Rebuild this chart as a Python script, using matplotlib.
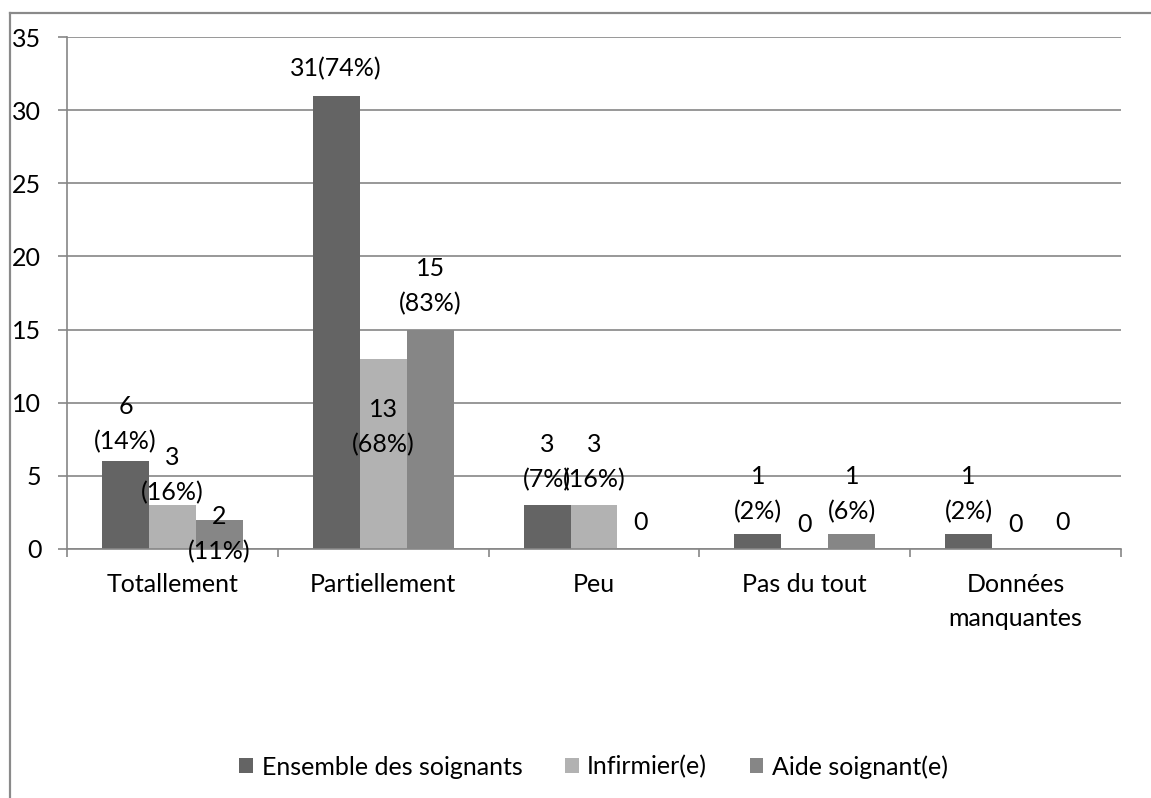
"""Grouped bar chart: degré de réponse par catégorie de soignants."""

import matplotlib

matplotlib.use("Agg")

import matplotlib.pyplot as plt
import numpy as np
from matplotlib.lines import Line2D
from matplotlib.patches import Patch

plt.rcParams["font.family"] = ["Lato", "DejaVu Sans"]
plt.rcParams["font.size"] = 18

categories = ["Totallement", "Partiellement", "Peu", "Pas du tout", "Données\nmanquantes"]
series_names = ["Ensemble des soignants", "Infirmier(e)", "Aide soignant(e)"]
ensemble = [6, 31, 3, 1, 1]
infirmier = [3, 13, 3, 0, 0]
aide = [2, 15, 0, 1, 0]
ensemble_labels = ["6\n(14%)", "31(74%)", "3\n(7%)", "1\n(2%)", "1\n(2%)"]
infirmier_labels = ["3\n(16%)", "13\n(68%)", "3\n(16%)", "0", "0"]
aide_labels = ["2\n(11%)", "15\n(83%)", "0", "1\n(6%)", "0"]
y_ticks = [0, 5, 10, 15, 20, 25, 30, 35]

# label centre above the bar top, in pixels (Excel moved a few of them by hand)
ensemble_offsets = [37, 27, 43, 40, 40]
infirmier_offsets = [30, -68, 43, 25, 25]
aide_offsets = [-14, 43, 26, 40, 26]

colors = ["#646464", "#b2b2b2", "#868686"]
grid_color = "#868686"
W, H = 1151, 798
px = 72 / 100


def main() -> None:
    fig = plt.figure(figsize=(W / 100, H / 100), dpi=100)
    ax = fig.add_axes([67 / W, 1 - 549 / H, 1054 / W, 512 / H])

    x = np.arange(len(categories))
    width = 47 / 211
    series = [ensemble, infirmier, aide]
    labels = [ensemble_labels, infirmier_labels, aide_labels]
    offsets = [ensemble_offsets, infirmier_offsets, aide_offsets]
    for i, (values, texts, offs) in enumerate(zip(series, labels, offsets)):
        xs = x + (i - 1) * width
        ax.bar(xs, values, width=width, color=colors[i], edgecolor="none", zorder=2)
        for xi, v, t, o in zip(xs, values, texts, offs):
            ax.annotate(t, xy=(xi, v), xytext=(0, o * px), textcoords="offset points",
                        ha="center", va="center", linespacing=1.62, zorder=3)

    ax.set_xlim(-0.5, len(categories) - 0.5)
    ax.set_ylim(0, 35)
    ax.set_yticks(y_ticks)
    ax.yaxis.grid(True, color=grid_color, linewidth=1.2)
    ax.set_axisbelow(True)

    ax.set_xticks(np.arange(-0.5, len(categories), 1))
    ax.set_xticklabels([])
    ax.set_xticks(x, minor=True)
    ax.set_xticklabels(categories, minor=True, linespacing=1.6)
    ax.tick_params(axis="x", which="major", length=8 * px, width=1.2, color=grid_color)
    ax.tick_params(axis="x", which="minor", length=0, pad=17)
    ax.tick_params(axis="y", length=9 * px, width=1.2, color=grid_color, pad=12)

    for side in ["top", "right"]:
        ax.spines[side].set_visible(False)
    for side in ["left", "bottom"]:
        ax.spines[side].set_color(grid_color)
        ax.spines[side].set_linewidth(1.2)

    handles = [Patch(facecolor=c, edgecolor="none") for c in colors]
    fig.legend(handles, series_names, loc="center", ncol=3, frameon=False,
               bbox_to_anchor=(593.5 / W, 1 - 767 / H),
               handlelength=0.55, handleheight=0.55, handletextpad=0.34,
               columnspacing=1.7)

    # outer chart border (only left and top edges are in the frame)
    fig.add_artist(Line2D([10 / W, 10 / W], [0, 1 - 13 / H], transform=fig.transFigure,
                          color="#8a8a8a", linewidth=2.2 * px))
    fig.add_artist(Line2D([10 / W, 1], [1 - 13 / H, 1 - 13 / H], transform=fig.transFigure,
                          color="#8a8a8a", linewidth=2.2 * px))

    fig.savefig("out.png", dpi=100)
    plt.close(fig)


if __name__ == "__main__":
    main()
